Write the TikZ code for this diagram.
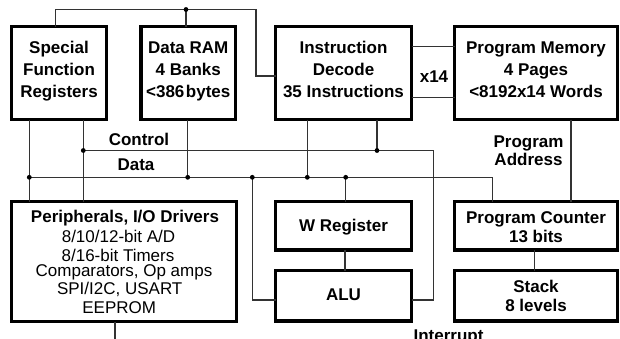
\documentclass[tikz,border=0pt]{standalone}
\usepackage{fontspec}
\setmainfont{Liberation Sans}
\begin{document}
\begin{tikzpicture}[x=1pt,y=-1pt,
  box/.style={draw=black, line width=3.3pt, fill=white, inner sep=0pt, outer sep=0pt},
  wire/.style={draw=black!80, line width=1.3pt},
  dotc/.style={circle, fill=black, inner sep=0pt, minimum size=4.8pt},
  bt/.style={font=\fontsize{17}{20}\selectfont\bfseries, anchor=base, inner sep=0pt},
  rt/.style={font=\fontsize{17}{20}\selectfont, anchor=base, inner sep=0pt}]
\useasboundingbox (0,0) rectangle (620,338);
\fill[white] (0,0) rectangle (620,338);

% boxes
\node[box, minimum width=95pt,  minimum height=93pt]   (sfr)  at (59,73) {};
\node[box, minimum width=94.5pt,minimum height=93pt]   (ram)  at (188.25,73) {};
\node[box, minimum width=136pt, minimum height=93pt]   (dec)  at (343.5,73) {};
\node[box, minimum width=163pt, minimum height=93pt]   (pm)   at (536,73) {};
\node[box, minimum width=225pt, minimum height=120pt]  (per)  at (124,261.5) {};
\node[box, minimum width=136pt, minimum height=48.5pt] (wreg) at (343.5,225.75) {};
\node[box, minimum width=136pt, minimum height=50.5pt] (alu)  at (343.5,295.75) {};
\node[box, minimum width=163pt, minimum height=48.5pt] (pc)   at (536,225.75) {};
\node[box, minimum width=163pt, minimum height=50.5pt] (stk)  at (536,295.75) {};

% box texts
\node[bt] (sfr1) at (59,53) {Special};
\node[bt] (sfr2) at (59,75) {Function};
\node[bt] (sfr3) at (59,97) {Registers};
\node[bt] (ram1) at (188.25,53) {Data RAM};
\node[bt] (ram2) at (188.25,75) {4 Banks};
\node[bt] (ram3) at (188.25,97) {<386\hspace{1.5pt}bytes};
\node[bt] (dec1) at (343.5,53) {Instruction};
\node[bt] (dec2) at (343.5,75) {Decode};
\node[bt] (dec3) at (343.5,97) {35 Instructions};
\node[bt] (pm1) at (536,53) {Program Memory};
\node[bt] (pm2) at (536,75) {4 Pages};
\node[bt] (pm3) at (536,97) {<8192x14 Words};
\node[bt] (per1) at (125,222.5) {Peripherals, I/O Drivers};
\node[rt] (per2) at (118.5,242.7) {8/10/12-bit A/D};
\node[rt] (per3) at (118,261) {8/16-bit Timers};
\node[rt] (per4) at (124,276) {Comparators, Op amps};
\node[rt] (per5) at (119.7,294.3) {SPI/I2C, USART};
\node[rt] (per6) at (119.2,313.3) {EEPROM};
\node[bt] (wreg1) at (343.5,231) {W Register};
\node[bt] (alu1) at (343.5,300) {ALU};
\node[bt] (pc1) at (536,223.3) {Program Counter};
\node[bt] (pc2) at (536,242.7) {13 bits};
\node[bt] (stk1) at (536,292.3) {Stack};
\node[bt] (stk2) at (536,311) {8 levels};

% free labels
\node[bt] (lctl) at (139,145) {Control};
\node[bt] (ldat) at (136,170) {Data};
\node[bt] (lx14) at (434,82) {x14};
\node[bt] (lpa1) at (528.5,147) {Program};
\node[bt] (lpa2) at (528.5,165.5) {Address};
\node[bt] (lint) at (448.5,341.5) {Interrupt};

% junction coordinates
\coordinate (tj) at (186,9.5);
\coordinate (cj1) at (83.3,150.5);
\coordinate (cj2) at (377,150.5);
\coordinate (dj1) at (29.3,177.3);
\coordinate (dj2) at (187.7,177.3);
\coordinate (dj3) at (252.3,177.3);
\coordinate (dj4) at (307.3,177.3);
\coordinate (dj5) at (345.7,177.3);
\coordinate (t1) at (55.3,9.5);
\coordinate (t2) at (256,9.5);
\coordinate (t3) at (256,76);
\coordinate (cr) at (433.3,150.5);
\coordinate (cb) at (433.3,300);
\coordinate (dr) at (492.7,177.3);
\coordinate (ab) at (252.3,300);
\coordinate (bot) at (115,340);

% wires
\draw[wire] (sfr.north -| t1) -- (t1) -- (t2) -- (t3) -- (t3 -| dec.west);
\draw[wire] (tj) -- (tj |- ram.north);
\draw[wire] (dec.east |- 0,46.7) -- (pm.west |- 0,46.7);
\draw[wire] (dec.east |- 0,97.3) -- (pm.west |- 0,97.3);
\draw[wire] (sfr.south -| dj1) -- (per.north -| dj1);
\draw[wire] (sfr.south -| cj1) -- (per.north -| cj1);
\draw[wire] (cj1) -- (cr) -- (cb) -- (cb -| alu.east);
\draw[wire] (dec.south -| cj2) -- (cj2);
\draw[wire] (dj1) -- (dr) -- (dr |- pc.north);
\draw[wire] (ram.south -| dj2) -- (dj2);
\draw[wire] (dec.south -| dj4) -- (dj4);
\draw[wire] (dj5) -- (dj5 |- wreg.north);
\draw[wire] (dj3) -- (ab) -- (ab -| alu.west);
\draw[wire] (wreg.south -| 345,0) -- (alu.north -| 345,0);
\draw[wire] (pm.south -| 571,0) -- (pc.north -| 571,0);
\draw[wire] (pc.south -| 534.3,0) -- (stk.north -| 534.3,0);
\draw[wire] (per.south -| bot) -- (bot);

% dots
\node[dotc] (dot0) at (tj) {};
\node[dotc] (dot1) at (cj1) {};
\node[dotc] (dot2) at (cj2) {};
\node[dotc] (dot3) at (dj1) {};
\node[dotc] (dot4) at (dj2) {};
\node[dotc] (dot5) at (dj3) {};
\node[dotc] (dot6) at (dj4) {};
\node[dotc] (dot7) at (dj5) {};
\end{tikzpicture}
\end{document}
